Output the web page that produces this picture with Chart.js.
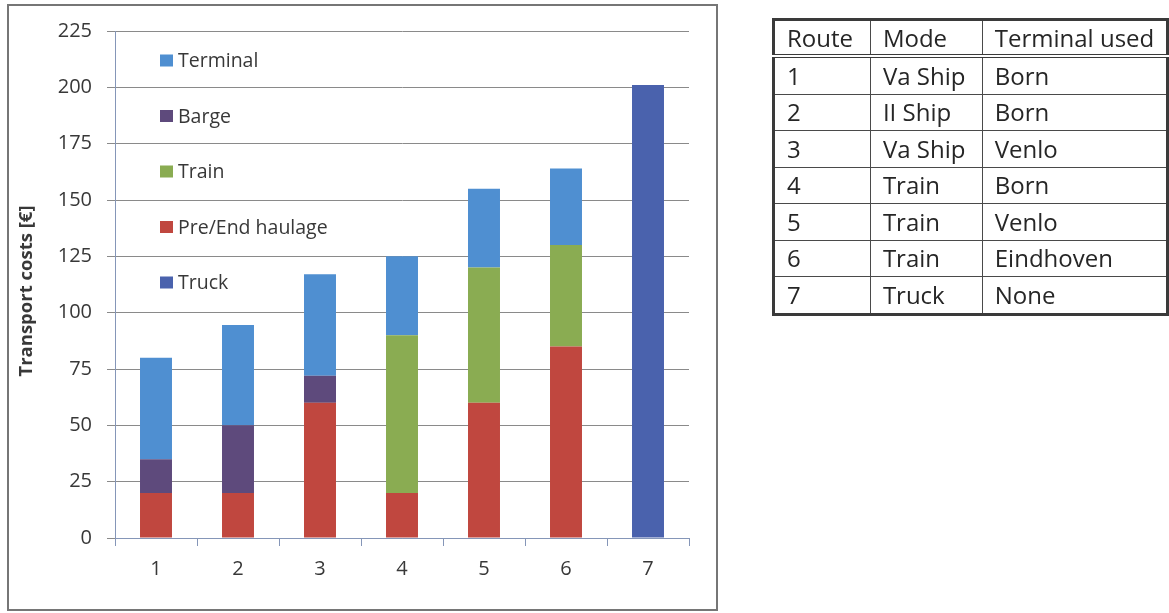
<!DOCTYPE html>
<html>
<head>
<meta charset="utf-8">
<script src="https://cdn.jsdelivr.net/npm/chart.js@4.4.1/dist/chart.umd.min.js"></script>
<style>
  html, body { margin: 0; padding: 0; background: #fff; }
  body { width: 1169px; height: 613px; position: relative; overflow: hidden; font-family: "Open Sans", sans-serif; }
  #frame { position: absolute; left: 7px; top: 4px; width: 707px; height: 603px; border: 2px solid #767676; }
  #wrap { position: absolute; left: 0; top: 0; width: 1169px; height: 613px; }
  table.routes { position: absolute; left: 772px; top: 18px; border-collapse: collapse; border: 3px solid #3a3a3a; color: #262626; font-size: 24px; }
  table.routes td { border: 1.5px solid #4a4a4a; padding: 0 0 0 12px; height: 35.5px; line-height: 30px; white-space: nowrap; }
  table.routes tr.head td { height: 33px; border-bottom: 4px double #3a3a3a; }
  table.routes td.c1 { width: 84px; }
  table.routes td.c2 { width: 100px; }
  table.routes td.c3 { width: 172px; }
</style>
</head>
<body>
<div id="frame"></div>
<div id="wrap"><canvas id="chart"></canvas></div>
<table class="routes" id="routes"></table>
<script>
// Routes on the x axis
const routes = ['1', '2', '3', '4', '5', '6', '7'];

// Cost components per route, in euros (null = not used on that route)
const truck        = [null, null, null, null, null, null, 201];
const preEndHaul   = [20, 20, 60, 20, 60, 85, null];
const train        = [null, null, null, 70, 60, 45, null];
const barge        = [15, 30, 12, null, null, null, null];
const terminal     = [45, 44.5, 45, 35, 35, 34, null];

// Y axis range
const yMin = 0, yMax = 225, yStep = 25;
const yTitle = 'Transport costs [€]';

// Route description table
const tableHeader   = ['Route', 'Mode', 'Terminal used'];
const routeModes    = ['Va Ship', 'II Ship', 'Va Ship', 'Train', 'Train', 'Train', 'Truck'];
const routeTerminal = ['Born', 'Born', 'Venlo', 'Born', 'Venlo', 'Eindhoven', 'None'];

// Build the table
const tbl = document.getElementById('routes');
const headRow = document.createElement('tr');
headRow.className = 'head';
tableHeader.forEach((h, i) => {
  const td = document.createElement('td');
  td.className = 'c' + (i + 1);
  td.textContent = h;
  headRow.appendChild(td);
});
tbl.appendChild(headRow);
routes.forEach((r, i) => {
  const tr = document.createElement('tr');
  [r, routeModes[i], routeTerminal[i]].forEach((v, j) => {
    const td = document.createElement('td');
    td.className = 'c' + (j + 1);
    td.textContent = v;
    tr.appendChild(td);
  });
  tbl.appendChild(tr);
});

const FONT = '"Open Sans", sans-serif';
const TEXT = '#383838';

// Vertical legend drawn inside the plot area, top series first,
// plus the rotated y-axis title
const insideLegend = {
  id: 'insideLegend',
  afterDatasetsDraw(chart) {
    const { ctx, chartArea } = chart;
    const ds = chart.data.datasets.slice().reverse();
    ctx.save();
    ctx.font = '19.5px ' + FONT;
    ctx.textBaseline = 'middle';
    ds.forEach((d, i) => {
      const x = chartArea.left + 45;
      const y = chartArea.top + 29.5 + i * 55.5;
      ctx.fillStyle = d.backgroundColor;
      ctx.fillRect(x, y - 6, 13, 12);
      ctx.fillStyle = TEXT;
      ctx.textAlign = 'left';
      ctx.fillText(d.label, x + 18, y + 1);
    });
    ctx.restore();

    ctx.save();
    ctx.translate(27, 291);
    ctx.rotate(-Math.PI / 2);
    ctx.font = 'bold 18.5px ' + FONT;
    ctx.fillStyle = TEXT;
    ctx.textAlign = 'center';
    ctx.textBaseline = 'middle';
    ctx.fillText(yTitle, 0, 0);
    ctx.restore();
  }
};

new Chart(document.getElementById('chart'), {
  type: 'bar',
  data: {
    labels: routes,
    datasets: [
      { label: 'Truck', data: truck, backgroundColor: '#4a62ad' },
      { label: 'Pre/End haulage', data: preEndHaul, backgroundColor: '#c0473f' },
      { label: 'Train', data: train, backgroundColor: '#8aac52' },
      { label: 'Barge', data: barge, backgroundColor: '#5e4a7c' },
      { label: 'Terminal', data: terminal, backgroundColor: '#4f8fd1' }
    ]
  },
  options: {
    responsive: true,
    maintainAspectRatio: false,
    animation: false,
    devicePixelRatio: 1,
    layout: { padding: { left: 8, right: 480, top: 31, bottom: 15 } },
    datasets: { bar: { barPercentage: 0.39, categoryPercentage: 1 } },
    plugins: {
      legend: { display: false },
      tooltip: { enabled: false }
    },
    scales: {
      x: {
        stacked: true,
        afterFit(scale) { scale.height = 60; },
        grid: { display: true, drawOnChartArea: false, drawTicks: true, tickLength: 8, color: '#8596b8', lineWidth: 1 },
        border: { display: true, color: '#8596b8', width: 1 },
        ticks: { color: TEXT, font: { family: FONT, size: 20 }, padding: 11 }
      },
      y: {
        stacked: true,
        min: yMin,
        max: yMax,
        afterFit(scale) { scale.width = 107; },
        grid: { color: '#8a8a8a', lineWidth: 1, tickLength: 8, drawTicks: true },
        border: { display: true, color: '#8596b8', width: 1 },
        ticks: { stepSize: yStep, color: TEXT, font: { family: FONT, size: 20 }, padding: 15 }
      }
    }
  },
  plugins: [insideLegend]
});
</script>
</body>
</html>
